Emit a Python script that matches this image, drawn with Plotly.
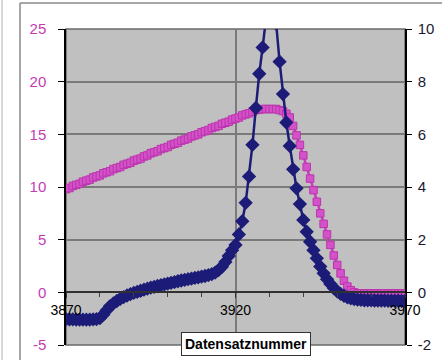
import plotly.graph_objects as go

# ---- data ----
record_no = list(range(3870, 3971))

pink_left = [9.8, 9.9, 10.1, 10.2, 10.3, 10.5, 10.6, 10.7, 10.9, 11.0,
             11.1, 11.3, 11.4, 11.5, 11.7, 11.8, 11.9, 12.1, 12.2, 12.3,
             12.5, 12.6, 12.7, 12.9, 13.0, 13.2, 13.3, 13.4, 13.6, 13.7,
             13.8, 14.0, 14.1, 14.2, 14.4, 14.5, 14.6, 14.8, 14.9, 15.0,
             15.2, 15.3, 15.4, 15.6, 15.7, 15.8, 16.0, 16.1, 16.2, 16.4,
             16.5, 16.6, 16.8, 16.9, 17.0, 17.15, 17.3, 17.35, 17.4, 17.4,
             17.4, 17.4, 17.4, 17.3, 17.2, 16.95, 16.6, 15.8, 14.9, 14.0,
             13.0, 11.9, 10.8, 9.7, 8.6, 7.5, 6.5, 5.5, 4.5, 3.5,
             2.6, 1.8, 1.1, 0.55, 0.2, 0.0, -0.1, -0.1, -0.1, -0.1,
             -0.1, -0.1, -0.1, -0.1, -0.1, -0.1, -0.1, -0.1, -0.1, -0.1,
             -0.1]

blue_right = [-1.02, -1.03, -1.03, -1.04, -1.04, -1.04, -1.04, -1.04, -1.03, -1.02,
              -0.98, -0.85, -0.68, -0.52, -0.42, -0.33, -0.25, -0.18, -0.12, -0.07,
              -0.02, 0.02, 0.06, 0.10, 0.14, 0.18, 0.21, 0.24, 0.27, 0.30,
              0.33, 0.36, 0.39, 0.42, 0.45, 0.47, 0.50, 0.52, 0.55, 0.57,
              0.60, 0.62, 0.65, 0.69, 0.75, 0.84, 0.97, 1.15, 1.38, 1.6,
              1.8, 2.2, 2.7, 3.4, 4.4, 5.6, 7.0, 8.3, 9.3, 10.3,
              11.5, 11.0, 10.2, 8.76, 7.53, 6.45, 5.56, 4.67, 3.95, 3.35,
              2.75, 2.3, 1.92, 1.6, 1.29, 0.98, 0.72, 0.5, 0.32, 0.16,
              0.04, -0.06, -0.13, -0.19, -0.23, -0.26, -0.28, -0.29, -0.30, -0.30,
              -0.30, -0.31, -0.31, -0.31, -0.31, -0.32, -0.32, -0.32, -0.32, -0.33,
              -0.33]

x_ticks = [3870, 3920, 3970]
left_ticks = [-5, 0, 5, 10, 15, 20, 25]
left_labels = ["-5", "0", "5", "10", "15", "20", "25"]
right_ticks = [-2, 0, 2, 4, 6, 8, 10]
right_labels = ["-2", "0", "2", "4", "6", "8", "10"]
x_title = "Datensatznummer"

assert len(pink_left) == len(record_no) == len(blue_right)

# ---- layout geometry (pixels) ----
W, H = 442, 360
ML, MR, MT, MB = 66, 37, 29, 15
PW, PH = W - ML - MR, H - MT - MB


def px(x):
    return (x - ML) / PW


def py(y):
    return (H - MB - y) / PH


PINK = "#c43cb4"
NAVY = "#1c1c78"

fig = go.Figure()
fig.add_trace(go.Scatter(
    x=record_no, y=pink_left, mode="lines+markers", yaxis="y",
    line=dict(color="#c83cbc", width=2.5),
    marker=dict(symbol="square", size=7.5, color="#d452c8",
                line=dict(color="#bb34ae", width=1)),
    showlegend=False, hoverinfo="skip"))
fig.add_trace(go.Scatter(
    x=record_no, y=blue_right, mode="lines+markers", yaxis="y2",
    line=dict(color=NAVY, width=2.5),
    marker=dict(symbol="diamond", size=11, color=NAVY,
                line=dict(color=NAVY, width=0)),
    showlegend=False, hoverinfo="skip"))

fig.update_layout(
    width=W, height=H,
    margin=dict(l=ML, r=MR, t=MT, b=MB, pad=0, autoexpand=False),
    paper_bgcolor="white", plot_bgcolor="#c0c0c0",
    font=dict(family="Arial, Liberation Sans, sans-serif"),
    xaxis=dict(range=[3870, 3970], tickvals=x_ticks,
               ticktext=[str(v) for v in x_ticks],
               anchor="free", position=py(292),
               showline=True, linecolor="#303030", linewidth=1.5,
               showgrid=True, gridcolor="#7a7a7a", gridwidth=1.5,
               ticks="outside", ticklen=5, tickcolor="#303030",
               minor=dict(dtick=10, tick0=3870, ticks="outside", ticklen=4,
                          tickcolor="#404040", showgrid=False),
               tickfont=dict(size=14, color="black"),
               ticklabelstandoff=0, zeroline=False, automargin=False),
    yaxis=dict(range=[-5, 25], tickvals=left_ticks, ticktext=left_labels,
               showline=True, linecolor="black", linewidth=1.5,
               showgrid=True, gridcolor="#7a7a7a", gridwidth=1.5,
               ticks="outside", ticklen=6, tickcolor="black",
               tickfont=dict(size=15, color=PINK),
               ticklabelstandoff=9, zeroline=False, automargin=False),
    yaxis2=dict(range=[-2, 10], tickvals=right_ticks, ticktext=right_labels,
                overlaying="y",
                side="right", showline=True, linecolor="black", linewidth=1.5,
                showgrid=False, ticks="outside", ticklen=5, tickcolor="black",
                tickfont=dict(size=15, color="#1a1a30"),
                ticklabelstandoff=3, zeroline=False, automargin=False),
)

# plot-area border and outer chart frame
fig.add_shape(type="rect", xref="paper", yref="paper", x0=0, x1=1, y0=0, y1=1,
              line=dict(color="#6a6a6a", width=1.5), layer="below")
fig.add_shape(type="line", xref="paper", yref="paper",
              x0=px(20), x1=px(20), y0=py(3), y1=py(360),
              line=dict(color="#8a8a8a", width=1.5))
fig.add_shape(type="line", xref="paper", yref="paper",
              x0=px(20), x1=px(442), y0=py(3), y1=py(3),
              line=dict(color="#8a8a8a", width=1.5))
fig.add_shape(type="line", xref="paper", yref="paper",
              x0=px(2), x1=px(2), y0=py(0), y1=py(360),
              line=dict(color="#b0b0b0", width=1))

fig.add_annotation(text="<b>" + x_title + "</b>", xref="paper", yref="paper",
                   x=px(246), y=py(343.5), xanchor="center", yanchor="middle",
                   showarrow=False, font=dict(size=14, color="black"),
                   bgcolor="white", bordercolor="#333333", borderwidth=1,
                   borderpad=3)

fig.write_html("out.html",
               config={"displayModeBar": False},
               post_script="document.body.style.margin='0';"
                           "document.body.style.padding='0';")
